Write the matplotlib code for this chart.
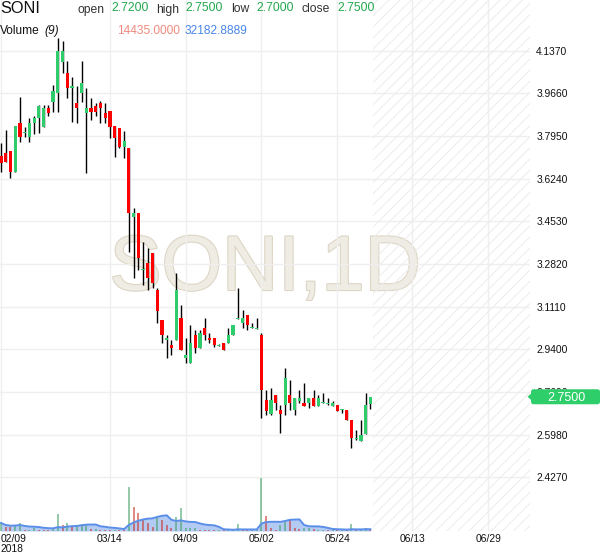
import matplotlib
matplotlib.use('Agg')
import matplotlib.pyplot as plt
import matplotlib.patheffects as pe
from matplotlib.patches import FancyBboxPatch, Polygon
from matplotlib.transforms import IdentityTransform
import numpy as np
import pandas as pd

plt.rcParams['font.family'] = ['Liberation Sans', 'DejaVu Sans']
plt.rcParams['hatch.color'] = '#ececec'
plt.rcParams['hatch.linewidth'] = 0.7

# ---------------- data ----------------
symbol = "SONI"
interval = "1D"
ma_period = 9

opens = [3.715, 3.728, 3.735, 3.652, 3.846, 3.806, 3.792, 3.846, 3.866, 3.832,
         3.906, 3.933, 3.966, 4.093, 4.049, 3.986, 3.929, 3.966, 3.886, 3.906,
         3.915, 3.929, 3.889, 3.895, 3.835, 3.826, 3.752, 3.746, 3.472, 3.485,
         3.256, 3.285, 3.325, 3.178, 3.058, 2.977, 2.957, 2.977, 3.064, 2.904,
         2.884, 2.997, 2.944, 3.024, 2.987, 2.984, 2.956, 2.964, 2.964, 2.997,
         3.062, 3.044, 3.078, 3.026, 3.023, 2.997, 2.737, 2.681, 2.757, 2.697,
         2.717, 2.757, 2.697, 2.734, 2.726, 2.724, 2.746, 2.714, 2.725, 2.723,
         2.714, 2.717, 2.696, 2.697, 2.657, 2.582, 2.574, 2.601, 2.720]
highs = [3.766, 3.819, 3.735, 3.835, 3.953, 3.832, 3.866, 3.875, 3.919, 3.919,
         3.919, 4.000, 4.187, 4.176, 4.096, 4.033, 3.996, 4.096, 3.986, 3.946,
         3.929, 3.935, 3.926, 3.895, 3.835, 3.826, 3.815, 3.746, 3.505, 3.485,
         3.372, 3.345, 3.325, 3.185, 3.058, 2.997, 2.977, 3.245, 3.118, 2.984,
         3.038, 3.018, 3.018, 3.064, 3.004, 2.984, 2.960, 2.964, 3.024, 3.038,
         3.185, 3.098, 3.078, 3.044, 3.064, 3.004, 2.777, 2.784, 2.757, 2.717,
         2.864, 2.817, 2.744, 2.777, 2.804, 2.744, 2.777, 2.757, 2.764, 2.744,
         2.733, 2.717, 2.700, 2.697, 2.657, 2.617, 2.657, 2.764, 2.750]
lows = [3.652, 3.692, 3.626, 3.652, 3.772, 3.792, 3.772, 3.803, 3.806, 3.832,
        3.875, 3.893, 3.893, 4.046, 3.946, 3.853, 3.846, 3.933, 3.646, 3.859,
        3.875, 3.846, 3.846, 3.786, 3.712, 3.746, 3.706, 3.331, 3.225, 3.258,
        3.198, 3.178, 3.185, 3.044, 2.964, 2.904, 2.917, 2.977, 2.937, 2.884,
        2.884, 2.924, 2.944, 2.977, 2.964, 2.951, 2.954, 2.937, 2.964, 2.997,
        3.062, 3.024, 3.018, 3.024, 3.023, 2.664, 2.677, 2.677, 2.697, 2.604,
        2.677, 2.697, 2.677, 2.724, 2.714, 2.704, 2.714, 2.714, 2.724, 2.717,
        2.714, 2.694, 2.684, 2.655, 2.543, 2.577, 2.574, 2.601, 2.700]
closes = [3.686, 3.692, 3.652, 3.835, 3.792, 3.808, 3.846, 3.866, 3.915, 3.906,
          3.886, 3.975, 4.136, 4.136, 3.986, 3.996, 3.906, 4.009, 3.906, 3.893,
          3.893, 3.906, 3.866, 3.832, 3.786, 3.752, 3.775, 3.485, 3.485, 3.305,
          3.260, 3.225, 3.205, 3.095, 2.997, 2.987, 2.944, 3.178, 2.937, 2.917,
          2.964, 2.944, 3.004, 2.997, 2.977, 2.957, 2.958, 2.937, 2.997, 3.038,
          3.064, 3.064, 3.038, 3.028, 3.025, 2.777, 2.694, 2.737, 2.724, 2.681,
          2.824, 2.724, 2.744, 2.746, 2.714, 2.744, 2.714, 2.746, 2.727, 2.725,
          2.724, 2.694, 2.698, 2.655, 2.583, 2.584, 2.597, 2.717, 2.750]
volumes = [144000, 72000, 72000, 103000, 144000, 13000, 9000, 59000, 23000, 23000,
           14000, 41000, 300000, 103000, 144000, 72000, 103000, 121000, 121000, 41000,
           41000, 18000, 18000, 18000, 23000, 18000, 18000, 792000, 432000, 324000,
           221000, 144000, 72000, 252000, 193000, 103000, 59000, 252000, 414000, 59000,
           59000, 59000, 23000, 18000, 18000, 14000, 14000, 18000, 18000, 18000,
           121000, 18000, 14000, 14000, 14000, 960000, 265000, 59000, 23000, 103000,
           171000, 193000, 59000, 41000, 59000, 59000, 41000, 18000, 18000, 18000,
           18000, 16000, 15000, 20211, 120000, 17000, 19000, 50000, 14435]
# 1 = volume drawn as "up" (green), 0 = "down" (red)
vol_up = [1, 0, 0, 1, 1, 0, 1, 1, 0, 0,
          0, 1, 1, 0, 1, 0, 1, 1, 1, 0,
          1, 0, 0, 0, 1, 0, 0, 1, 0, 0,
          0, 0, 0, 1, 0, 0, 0, 1, 1, 1,
          1, 1, 0, 0, 0, 0, 1, 0, 1, 1,
          1, 0, 0, 1, 1, 1, 0, 0, 0, 1,
          1, 0, 0, 0, 1, 1, 0, 1, 1, 0,
          1, 0, 1, 0, 1, 0, 1, 1, 0]

xtick_pos = [0, 23, 39, 55, 71, 86.8, 102.85]
xtick_labels = ['02/09\n2018', '03/14', '04/09', '05/02', '05/24', '06/13', '06/29']
ytick_vals = [2.427, 2.598, 2.769, 2.940, 3.111, 3.282, 3.453, 3.624, 3.795, 3.966, 4.137]
price_range = (2.212, 4.340)
x_range = (-0.21, 111.7)

# ---------------- figure ----------------
W, H = 600, 558
fig = plt.figure(figsize=(W / 100, H / 100), dpi=100)
fig.patch.set_facecolor('white')
ax = fig.add_axes([0, (H - 531) / H, 530 / W, 531 / H])
ax.set_facecolor('white')
for s in ax.spines.values():
    s.set_visible(False)

o = np.array(opens); h = np.array(highs); l = np.array(lows); c = np.array(closes)
x = np.arange(len(o))
ax.set_xlim(*x_range)
ax.set_ylim(*price_range)

# volume axis (overlaid); create first so tick sides can be fixed afterwards
v = np.array(volumes, dtype=float)
ma = pd.Series(v).rolling(ma_period, min_periods=1).mean().values
ax2 = ax.twinx()
ax2.set_ylim(0, v.max() * 531 / 53.5)
ax2.set_yticks([])
ax2.tick_params(axis='y', length=0, labelright=False, labelleft=False)
for s in ax2.spines.values():
    s.set_visible(False)

# watermark
ax.text(0.5, (531 - 290) / 531, f"{symbol},{interval}", transform=ax.transAxes,
        ha='center', va='baseline', fontsize=56, color='#efece4', zorder=0.1,
        path_effects=[pe.withStroke(linewidth=1.6, foreground='#ddd6c6')])

# grid / ticks
ax.set_axisbelow(True)
ax.grid(True, color='#efefef', lw=1)
ax.set_xticks(xtick_pos)
ax.set_xticklabels(xtick_labels, fontsize=7.4, color='#111', linespacing=0.95)
ax.get_xticklabels()[0].set_ha('left')
ax.tick_params(axis='x', length=0, pad=2.5)
ax.set_yticks(ytick_vals)
ax.set_yticklabels([f"{val:.4f}" for val in ytick_vals], fontsize=7.4, color='#111')
ax.yaxis.tick_right()
ax.tick_params(axis='y', length=0, pad=4.5, labelright=True, labelleft=False)

# future (hatched) region
ax.axvspan(len(o) - 0.5, x_range[1], facecolor='none', edgecolor='#ececec',
           hatch='///', lw=0, zorder=0.6)

# candles
green = '#2ecc6a'
red = '#ff0000'
up = c >= o
px_per_price = 531 / (price_range[1] - price_range[0])
minh = 1.0 / px_per_price
body = np.abs(c - o)
bh = np.maximum(body, minh)
bb = np.where(body < minh, (o + c) / 2 - minh / 2, np.minimum(o, c))
ax.vlines(x, l, h, color='black', lw=1, zorder=2)
ax.bar(x, bh, bottom=bb, width=0.68, color=np.where(up, green, red), lw=0, zorder=3)

# volume marks
ax2.fill_between(x, ma, color='#b3cbf3', lw=0, zorder=1)
ax2.bar(x, v, width=0.42, color=np.where(np.array(vol_up) == 1, '#3f9d61', '#cb2b1e'),
        alpha=0.55, lw=0, zorder=2)
ax2.plot(x, ma, color='#5a8ee8', lw=1.4, zorder=3)
ax2.set_xlim(*x_range)

# ---------------- header ----------------
def ftext(px, py, s, **kw):
    fig.text(px / W, 1 - py / H, s, va='baseline', **kw)

numc = '#22a84c'
labc = '#333333'
ftext(0, 12.7, symbol, fontsize=11.7, color='#111')
ftext(78, 12.5, 'open', fontsize=8.7, color=labc)
ftext(111, 10.7, f"{opens[-1]:.4f}", fontsize=8.7, color=numc)
ftext(156, 12.5, 'high', fontsize=8.7, color=labc)
ftext(185, 10.7, f"{highs[-1]:.4f}", fontsize=8.7, color=numc)
ftext(231, 12.5, 'low', fontsize=8.7, color=labc)
ftext(256.7, 10.7, f"{lows[-1]:.4f}", fontsize=8.7, color=numc)
ftext(301, 12.5, 'close', fontsize=8.7, color=labc)
ftext(337.3, 10.7, f"{closes[-1]:.4f}", fontsize=8.7, color=numc)
ftext(0, 34.2, 'Volume', fontsize=8.6, color='#111')
ftext(44.3, 34.2, f"({ma_period})", fontsize=8.6, color='#111', style='italic')
ftext(116.7, 33.5, f"{volumes[-1]:.4f}", fontsize=8.6, color='#ef8a7e')
ftext(185, 33.5, f"{ma[-1]:.4f}", fontsize=8.6, color='#4a86e8')

# ---------------- last price tag ----------------
fig.canvas.draw()
yd = ax.transData.transform((0, closes[-1]))[1]
tag_c = '#2ecf6a'
fig.add_artist(FancyBboxPatch((531, yd - 7.5), 69, 15,
                              boxstyle='round,pad=0,rounding_size=2.5',
                              transform=IdentityTransform(), fc=tag_c, ec='none'))
fig.add_artist(Polygon([(527.5, yd), (532, yd + 4), (532, yd - 4)], closed=True,
                       transform=IdentityTransform(), fc=tag_c, ec='none'))
fig.text(566, yd, f"{closes[-1]:.4f}", transform=IdentityTransform(), ha='center',
         va='center_baseline', fontsize=9, color='white')

fig.savefig('out.png', dpi=100)
